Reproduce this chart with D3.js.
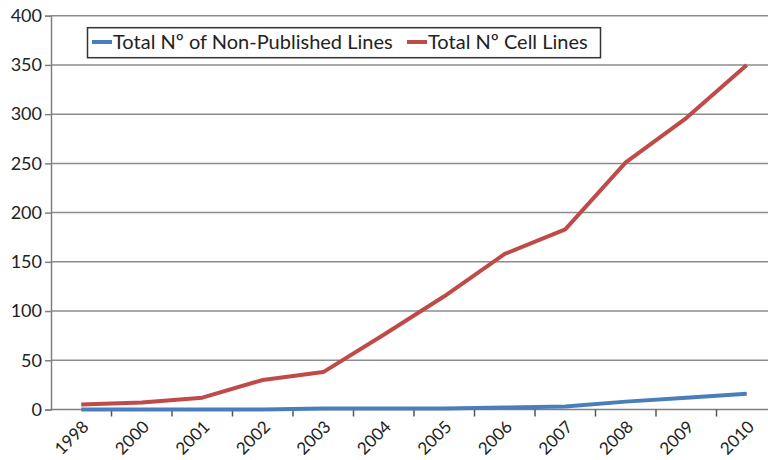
<!DOCTYPE html>
<html>
<head>
<meta charset="utf-8">
<script src="https://cdn.jsdelivr.net/npm/d3@7/dist/d3.min.js"></script>
<style>
  html, body { margin: 0; padding: 0; background: #fff; }
  svg { display: block; font-family: Lato, "Noto Sans", sans-serif; }
</style>
</head>
<body>
<svg id="chart" width="768" height="460"></svg>
<script>
// Yearly counts
const years = ["1998", "2000", "2001", "2002", "2003", "2004", "2005", "2006", "2007", "2008", "2009", "2010"];
const nonPublished = [0, 0, 0, 0, 1, 1, 1, 2, 3, 8, 12, 16];
const totalCellLines = [5, 7, 12, 30, 38, 76, 115, 158, 183, 251, 296, 350];
const yTicks = [0, 50, 100, 150, 200, 250, 300, 350, 400];
const seriesNames = ["Total Nº of Non-Published Lines", "Total Nº Cell Lines"];
const seriesColors = ["#4a7ebb", "#be4b48"];

const svg = d3.select("#chart");
const plotLeft = 51, plotTop = 15.7, plotBottom = 409.5, bandW = 60.5;

const x = d3.scaleBand().domain(years).range([plotLeft, plotLeft + bandW * years.length]).paddingInner(0).paddingOuter(0);
const y = d3.scaleLinear().domain([0, 400]).range([plotBottom, plotTop]);

// Horizontal gridlines
svg.append("g").selectAll("line").data(yTicks.filter(d => d > 0)).join("line")
  .attr("x1", plotLeft).attr("x2", 768)
  .attr("y1", d => y(d)).attr("y2", d => y(d))
  .attr("stroke", "#8c8c8c").attr("stroke-width", 1.5);

// Y axis
const yAxis = svg.append("g").attr("transform", `translate(${plotLeft},0)`)
  .call(d3.axisLeft(y).tickValues(yTicks).tickSize(6).tickPadding(3));
yAxis.select(".domain").attr("stroke", "#808080").attr("stroke-width", 1.5);
yAxis.selectAll(".tick line").attr("stroke", "#808080").attr("stroke-width", 1.5);
yAxis.selectAll("text").attr("font-size", 18).attr("fill", "#222").attr("font-family", "Lato, sans-serif");

// X axis with tick marks on category boundaries
const xAxisG = svg.append("g").attr("transform", `translate(0,${plotBottom})`);
xAxisG.append("line").attr("x1", plotLeft).attr("x2", 768).attr("y1", 0).attr("y2", 0)
  .attr("stroke", "#808080").attr("stroke-width", 1.5);
xAxisG.selectAll("line.tk").data(years).join("line").attr("class", "tk")
  .attr("x1", d => x(d) + x.bandwidth()).attr("x2", d => x(d) + x.bandwidth())
  .attr("y1", 0).attr("y2", 7)
  .attr("stroke", "#555").attr("stroke-width", 1.5);
xAxisG.selectAll("text").data(years).join("text")
  .attr("transform", d => `translate(${x(d) + x.bandwidth() / 2},${10}) rotate(-45)`)
  .attr("text-anchor", "end").attr("dy", "0.7em")
  .attr("font-size", 17).attr("fill", "#222")
  .text(d => d);

// Series lines
const line = d3.line().x((d, i) => x(years[i]) + x.bandwidth() / 2).y(d => y(d));
[nonPublished, totalCellLines].forEach((vals, k) => {
  svg.append("path").datum(vals)
    .attr("d", line)
    .attr("fill", "none")
    .attr("stroke", seriesColors[k])
    .attr("stroke-width", 4)
    .attr("stroke-linejoin", "round");
});

// Legend
const lg = svg.append("g");
lg.append("rect").attr("x", 87.5).attr("y", 27.7).attr("width", 513).attr("height", 30)
  .attr("fill", "#fff").attr("stroke", "#333").attr("stroke-width", 1.5);
const items = [{x: 92, tx: 113}, {x: 407, tx: 428}];
items.forEach((it, k) => {
  lg.append("line").attr("x1", it.x).attr("x2", it.x + 20).attr("y1", 42).attr("y2", 42)
    .attr("stroke", seriesColors[k]).attr("stroke-width", 4);
  lg.append("text").attr("x", it.tx).attr("y", 42).attr("dy", "0.36em")
    .attr("font-size", 20).attr("fill", "#222").text(seriesNames[k]);
});
</script>
</body>
</html>
